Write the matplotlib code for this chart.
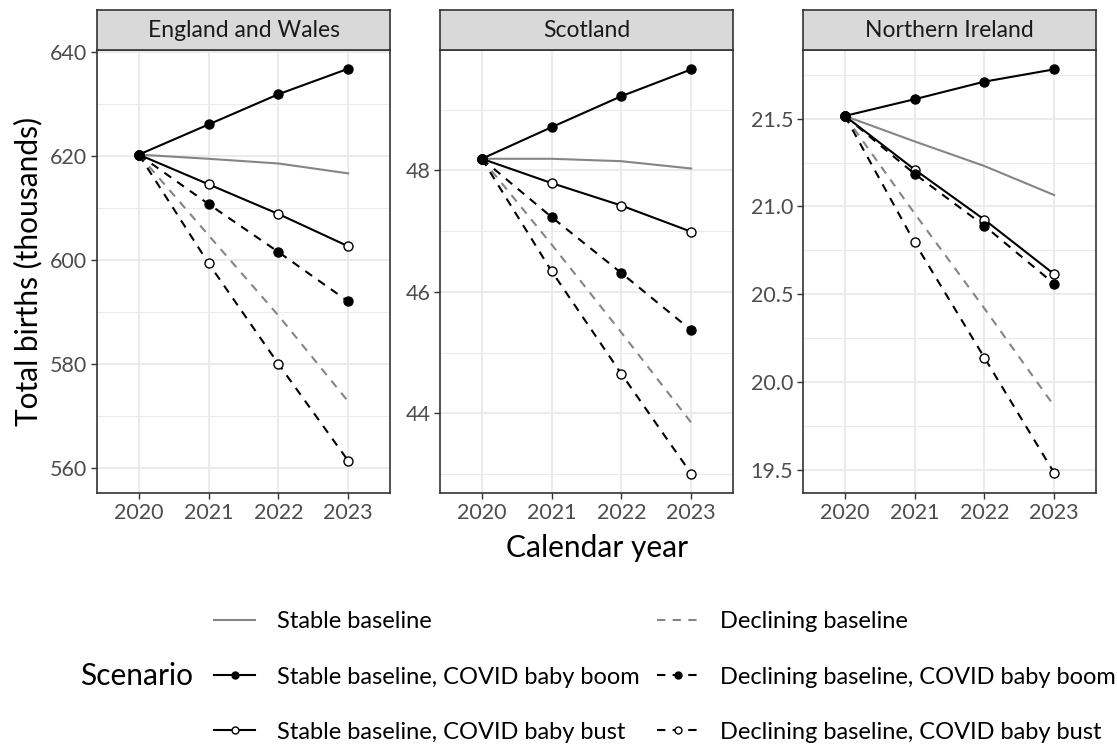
import numpy as np
import matplotlib
matplotlib.use('Agg')
import matplotlib.pyplot as plt
from matplotlib.lines import Line2D

plt.rcParams['font.family'] = ['Lato', 'DejaVu Sans']

years = [2020, 2021, 2022, 2023]
regions = ["England and Wales", "Scotland", "Northern Ireland"]

# total births (thousands) per scenario
ew_stable = [620.2, 619.4, 618.5, 616.6]
ew_stable_boom = [620.2, 626.0, 631.8, 636.7]
ew_stable_bust = [620.2, 614.5, 608.8, 602.6]
ew_decl = [620.2, 604.7, 589.3, 572.8]
ew_decl_boom = [620.2, 610.7, 601.5, 592.0]
ew_decl_bust = [620.2, 599.3, 580.0, 561.4]

sc_stable = [48.19, 48.19, 48.15, 48.03]
sc_stable_boom = [48.19, 48.71, 49.22, 49.66]
sc_stable_bust = [48.19, 47.79, 47.42, 46.99]
sc_decl = [48.19, 46.78, 45.33, 43.85]
sc_decl_boom = [48.19, 47.23, 46.31, 45.37]
sc_decl_bust = [48.19, 46.34, 44.65, 43.01]

ni_stable = [21.515, 21.37, 21.23, 21.065]
ni_stable_boom = [21.515, 21.61, 21.71, 21.78]
ni_stable_bust = [21.515, 21.21, 20.925, 20.615]
ni_decl = [21.515, 20.96, 20.42, 19.865]
ni_decl_boom = [21.515, 21.185, 20.89, 20.56]
ni_decl_bust = [21.515, 20.795, 20.14, 19.485]

ylims = [(555.2, 640.3), (42.69, 49.98), (19.37, 21.89)]
yticks = [[560, 580, 600, 620, 640], [44, 46, 48], [19.5, 20.0, 20.5, 21.0, 21.5]]
yminor = [[570, 590, 610, 630], [43, 45, 47, 49], [19.75, 20.25, 20.75, 21.25, 21.75]]
yfmt = ["{:.0f}", "{:.0f}", "{:.1f}"]

data = [
    [ew_stable, ew_stable_boom, ew_stable_bust, ew_decl, ew_decl_boom, ew_decl_bust],
    [sc_stable, sc_stable_boom, sc_stable_bust, sc_decl, sc_decl_boom, sc_decl_bust],
    [ni_stable, ni_stable_boom, ni_stable_bust, ni_decl, ni_decl_boom, ni_decl_bust],
]

scenarios = ["Stable baseline", "Stable baseline, COVID baby boom",
             "Stable baseline, COVID baby bust", "Declining baseline",
             "Declining baseline, COVID baby boom", "Declining baseline, COVID baby bust"]

GREY = '#858585'
DASH = (0, (4, 3.5))
styles = [
    dict(color=GREY, ls='-', marker=None),
    dict(color='black', ls='-', marker='o', mfc='black'),
    dict(color='black', ls='-', marker='o', mfc='white'),
    dict(color=GREY, ls=DASH, marker=None),
    dict(color='black', ls=DASH, marker='o', mfc='black'),
    dict(color='black', ls=DASH, marker='o', mfc='white'),
]
draw_order = [0, 3, 2, 5, 4, 1]

W, H = 1117, 745
fig = plt.figure(figsize=(W / 100, H / 100), dpi=100)

lefts = [97, 440, 803]
pw = 293
top, bottom, strip_top = 50, 493, 10

for i, reg in enumerate(regions):
    ax = fig.add_axes([lefts[i] / W, (H - bottom) / H, pw / W, (bottom - top) / H])
    sax = fig.add_axes([lefts[i] / W, (H - top) / H, pw / W, (top - strip_top) / H])
    sax.set_facecolor('#D9D9D9')
    sax.set_xticks([])
    sax.set_yticks([])
    for s in sax.spines.values():
        s.set_color('#333333')
        s.set_linewidth(1.2)
    sax.text(0.5, 0.48, reg, ha='center', va='center', fontsize=16.5, color='#1A1A1A',
             transform=sax.transAxes)

    for k in draw_order:
        ys = data[i][k]
        st = styles[k]
        ax.plot(years, ys, color=st['color'], ls=st['ls'], lw=1.5,
                marker=st['marker'], ms=6.5, mfc=st.get('mfc'), mec='black', mew=1.0,
                zorder=3)

    ax.set_xlim(2019.4, 2023.6)
    ax.set_ylim(*ylims[i])
    ax.set_xticks(years)
    ax.set_xticklabels([str(y) for y in years])
    ax.set_yticks(yticks[i])
    ax.set_yticklabels([yfmt[i].format(v) for v in yticks[i]])
    ax.set_yticks(yminor[i], minor=True)
    ax.grid(which='major', color='#EBEBEB', lw=1.5, zorder=0)
    ax.grid(which='minor', axis='y', color='#EBEBEB', lw=0.8, zorder=0)
    ax.tick_params(which='major', length=4, width=1, color='#333333',
                   labelsize=15.5, labelcolor='#4D4D4D', pad=3)
    ax.tick_params(which='minor', length=0)
    for s in ax.spines.values():
        s.set_color('#333333')
        s.set_linewidth(1.2)
    ax.set_axisbelow(True)

fig.text(28 / W, 1 - 271.5 / H, "Total births (thousands)", rotation=90,
         ha='center', va='center', fontsize=21.5)
fig.text(597 / W, 1 - 548 / H, "Calendar year", ha='center', va='center', fontsize=21.5)

handles = []
for k, st in enumerate(styles):
    handles.append(Line2D([], [], color=st['color'], ls=st['ls'], lw=1.5,
                          marker=st['marker'], ms=5, mfc=st.get('mfc'),
                          mec='black', mew=1.0))

leg = fig.legend(handles, scenarios, ncol=2, loc='center left',
                 bbox_to_anchor=(214 / W, 1 - 677 / H), frameon=False,
                 fontsize=17, handlelength=1.74, handletextpad=0.93,
                 labelspacing=1.45, columnspacing=0.75, borderpad=0,
                 borderaxespad=0)
fig.text(193 / W, 1 - 676 / H, "Scenario", ha='right', va='center', fontsize=21.5)

fig.savefig('out.png', dpi=100)
